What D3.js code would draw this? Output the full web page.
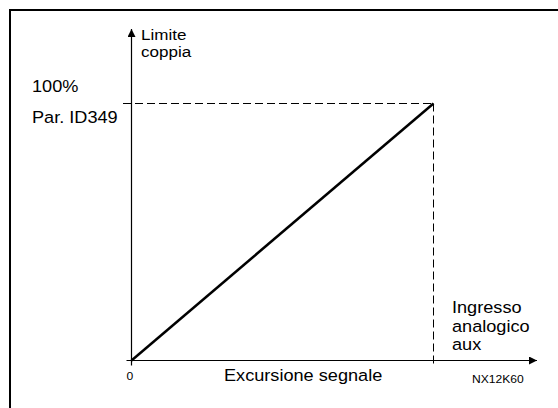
<!DOCTYPE html>
<html lang="en">
<head>
<meta charset="utf-8">
<script src="https://d3js.org/d3.v7.min.js"></script>
<style>
  body { margin: 0; background: #fff; }
  text { font-family: Arial, "Liberation Sans", sans-serif; fill: #000; }
</style>
</head>
<body>
<script>
  // signal excursion (%) vs torque limit (%)
  var signal = [0, 100];
  var torque = [0, 100];
  var xTicks = ["0"];
  var yLabels = ["100%", "Par. ID349"];
  var yTitle = ["Limite", "coppia"];
  var xTitle = ["Ingresso", "analogico", "aux"];
  var xCaption = "Excursione segnale";
  var code = "NX12K60";

  const W = 558, H = 408;
  const x0 = 131.5, x1 = 433.5, y0 = 360.5, y1 = 103.5;
  const sx = 1.1;

  const svg = d3.select("body").append("svg")
    .attr("width", W).attr("height", H);

  // frame
  svg.append("rect")
    .attr("x", 10).attr("y", 10)
    .attr("width", 560).attr("height", 420)
    .attr("fill", "none").attr("stroke", "#000").attr("stroke-width", 2);

  var x = d3.scaleLinear().domain([0, 100]).range([x0, x1]);
  var y = d3.scaleLinear().domain([0, 100]).range([y0, y1]);

  var defs = svg.append("defs");
  defs.append("marker")
    .attr("id", "arr").attr("viewBox", "0 0 10 10")
    .attr("refX", 10).attr("refY", 5)
    .attr("markerWidth", 12).attr("markerHeight", 8)
    .attr("markerUnits", "userSpaceOnUse")
    .attr("orient", "auto")
    .append("path").attr("d", "M0,0L10,5L0,10Z").attr("fill", "#000");

  // axes
  svg.append("line")
    .attr("x1", x0 - 5).attr("x2", 537)
    .attr("y1", y0).attr("y2", y0)
    .attr("stroke", "#000").attr("stroke-width", 1.2)
    .attr("marker-end", "url(#arr)");
  svg.append("line")
    .attr("x1", x0).attr("x2", x0)
    .attr("y1", y0 + 5).attr("y2", 29)
    .attr("stroke", "#000").attr("stroke-width", 1.2)
    .attr("marker-end", "url(#arr)");

  // dashed guides
  var dash = "8,4";
  svg.append("line")
    .attr("x1", 123).attr("x2", x(signal[1]))
    .attr("y1", y(torque[1])).attr("y2", y(torque[1]))
    .attr("stroke", "#000").attr("stroke-width", 1).attr("stroke-dasharray", dash);
  svg.append("line")
    .attr("x1", x(signal[1])).attr("x2", x(signal[1]))
    .attr("y1", y(torque[1])).attr("y2", y0 + 4)
    .attr("stroke", "#000").attr("stroke-width", 1).attr("stroke-dasharray", dash);

  // ramp
  var line = d3.line().x(function(d, i) { return x(d); }).y(function(d, i) { return y(torque[i]); });
  svg.append("path")
    .datum(signal)
    .attr("d", line)
    .attr("fill", "none").attr("stroke", "#000").attr("stroke-width", 2.5);

  // texts, slightly stretched horizontally like the original drawing
  function label(tx, ty, size, s) {
    return svg.append("text")
      .attr("transform", "translate(" + tx + "," + ty + ") scale(" + sx + ",1)")
      .attr("font-size", size)
      .text(s);
  }

  xTicks.forEach(function(d) { label(x(0) - 5, 380, 11, d); });
  yLabels.forEach(function(d, i) { label(32, 92 + i * 31, 16.5, d); });
  yTitle.forEach(function(d, i) { label(141, 40 + i * 17, 15.5, d); });
  xTitle.forEach(function(d, i) { label(452, 313 + i * 18.5, 16.5, d); });
  label(224, 380.5, 16.5, xCaption);
  label(472, 383, 11, code);
</script>
</body>
</html>
